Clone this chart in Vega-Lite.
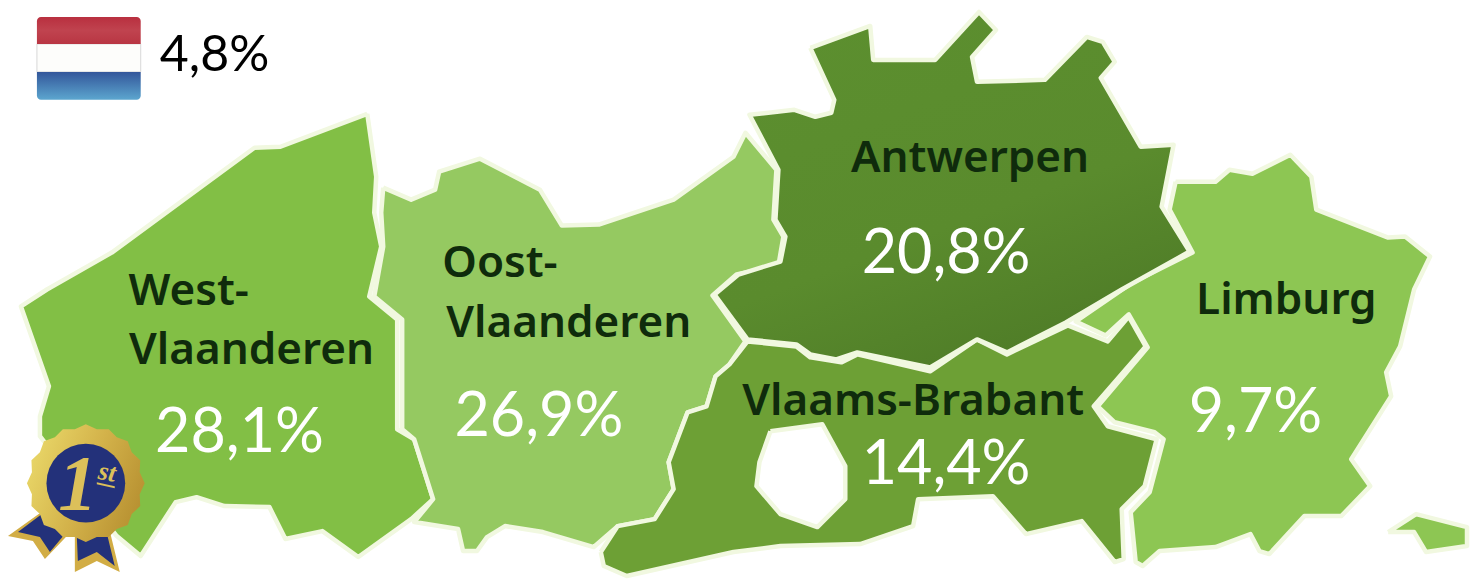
{"$schema":"https://vega.github.io/schema/vega-lite/v6.json","width":1470,"height":579,"autosize":{"type":"fit","contains":"padding"},"padding":0,"background":"#ffffff","config":{"view":{"stroke":null}},
"resolve":{"scale":{"color":"independent"}},
"datasets":{
"land":[
{"s":"West","o":1,"x":368,"y":114},{"s":"West","o":2,"x":377,"y":177},{"s":"West","o":3,"x":375,"y":213},{"s":"West","o":4,"x":382,"y":247},{"s":"West","o":5,"x":370,"y":297},{"s":"West","o":6,"x":398,"y":320},{"s":"West","o":7,"x":398,"y":430},{"s":"West","o":8,"x":415,"y":440},{"s":"West","o":9,"x":434,"y":500},{"s":"West","o":10,"x":412,"y":520},{"s":"West","o":11,"x":359,"y":558},{"s":"West","o":12,"x":323,"y":532},{"s":"West","o":13,"x":286,"y":540},{"s":"West","o":14,"x":270,"y":508},{"s":"West","o":15,"x":225,"y":507},{"s":"West","o":16,"x":197,"y":498},{"s":"West","o":17,"x":176,"y":503},{"s":"West","o":18,"x":141,"y":557},{"s":"West","o":19,"x":117,"y":537},{"s":"West","o":20,"x":40,"y":437},{"s":"West","o":21,"x":40,"y":417},{"s":"West","o":22,"x":49,"y":387},{"s":"West","o":23,"x":21,"y":307},{"s":"West","o":24,"x":47,"y":290},{"s":"West","o":25,"x":112,"y":253},{"s":"West","o":26,"x":255,"y":148},{"s":"West","o":27,"x":281,"y":147},{"s":"West","o":28,"x":368,"y":114},
{"s":"Oost","o":1,"x":384,"y":188},{"s":"Oost","o":2,"x":412,"y":200},{"s":"Oost","o":3,"x":436,"y":190},{"s":"Oost","o":4,"x":440,"y":172},{"s":"Oost","o":5,"x":481,"y":159},{"s":"Oost","o":6,"x":541,"y":190},{"s":"Oost","o":7,"x":563,"y":226},{"s":"Oost","o":8,"x":600,"y":225},{"s":"Oost","o":9,"x":675,"y":200},{"s":"Oost","o":10,"x":735,"y":157},{"s":"Oost","o":11,"x":747,"y":133},{"s":"Oost","o":12,"x":778,"y":170},{"s":"Oost","o":13,"x":775,"y":220},{"s":"Oost","o":14,"x":785,"y":237},{"s":"Oost","o":15,"x":780,"y":266},{"s":"Oost","o":16,"x":738,"y":275},{"s":"Oost","o":17,"x":714,"y":296},{"s":"Oost","o":18,"x":747,"y":342},{"s":"Oost","o":19,"x":731,"y":365},{"s":"Oost","o":20,"x":717,"y":377},{"s":"Oost","o":21,"x":708,"y":407},{"s":"Oost","o":22,"x":689,"y":413},{"s":"Oost","o":23,"x":670,"y":463},{"s":"Oost","o":24,"x":675,"y":490},{"s":"Oost","o":25,"x":656,"y":520},{"s":"Oost","o":26,"x":619,"y":527},{"s":"Oost","o":27,"x":595,"y":548},{"s":"Oost","o":28,"x":544,"y":533},{"s":"Oost","o":29,"x":506,"y":527},{"s":"Oost","o":30,"x":488,"y":538},{"s":"Oost","o":31,"x":478,"y":552},{"s":"Oost","o":32,"x":464,"y":552},{"s":"Oost","o":33,"x":459,"y":530},{"s":"Oost","o":34,"x":415,"y":523},{"s":"Oost","o":35,"x":434,"y":500},{"s":"Oost","o":36,"x":415,"y":440},{"s":"Oost","o":37,"x":403,"y":430},{"s":"Oost","o":38,"x":403,"y":320},{"s":"Oost","o":39,"x":375,"y":297},{"s":"Oost","o":40,"x":384,"y":247},{"s":"Oost","o":41,"x":382,"y":213},{"s":"Oost","o":42,"x":384,"y":188},
{"s":"Limburg","o":1,"x":1178,"y":182},{"s":"Limburg","o":2,"x":1218,"y":182},{"s":"Limburg","o":3,"x":1232,"y":170},{"s":"Limburg","o":4,"x":1255,"y":174},{"s":"Limburg","o":5,"x":1293,"y":155},{"s":"Limburg","o":6,"x":1314,"y":177},{"s":"Limburg","o":7,"x":1319,"y":210},{"s":"Limburg","o":8,"x":1391,"y":238},{"s":"Limburg","o":9,"x":1408,"y":237},{"s":"Limburg","o":10,"x":1433,"y":257},{"s":"Limburg","o":11,"x":1417,"y":290},{"s":"Limburg","o":12,"x":1403,"y":347},{"s":"Limburg","o":13,"x":1389,"y":373},{"s":"Limburg","o":14,"x":1394,"y":397},{"s":"Limburg","o":15,"x":1354,"y":460},{"s":"Limburg","o":16,"x":1373,"y":487},{"s":"Limburg","o":17,"x":1344,"y":517},{"s":"Limburg","o":18,"x":1307,"y":517},{"s":"Limburg","o":19,"x":1272,"y":555},{"s":"Limburg","o":20,"x":1262,"y":552},{"s":"Limburg","o":21,"x":1253,"y":535},{"s":"Limburg","o":22,"x":1218,"y":548},{"s":"Limburg","o":23,"x":1162,"y":552},{"s":"Limburg","o":24,"x":1145,"y":567},{"s":"Limburg","o":25,"x":1138,"y":563},{"s":"Limburg","o":26,"x":1133,"y":513},{"s":"Limburg","o":27,"x":1152,"y":493},{"s":"Limburg","o":28,"x":1166,"y":440},{"s":"Limburg","o":29,"x":1157,"y":433},{"s":"Limburg","o":30,"x":1117,"y":423},{"s":"Limburg","o":31,"x":1100,"y":407},{"s":"Limburg","o":32,"x":1150,"y":348},{"s":"Limburg","o":33,"x":1131,"y":315},{"s":"Limburg","o":34,"x":1108,"y":336},{"s":"Limburg","o":35,"x":1078,"y":322},{"s":"Limburg","o":36,"x":1135,"y":283},{"s":"Limburg","o":37,"x":1195,"y":253},{"s":"Limburg","o":38,"x":1172,"y":210},{"s":"Limburg","o":39,"x":1178,"y":182},
{"s":"Voeren","o":1,"x":1391,"y":533},{"s":"Voeren","o":2,"x":1419,"y":515},{"s":"Voeren","o":3,"x":1470,"y":528},{"s":"Voeren","o":4,"x":1470,"y":547},{"s":"Voeren","o":5,"x":1429,"y":553},{"s":"Voeren","o":6,"x":1417,"y":533},{"s":"Voeren","o":7,"x":1391,"y":533},
{"s":"Brabant","o":1,"x":602,"y":553},{"s":"Brabant","o":2,"x":605,"y":567},{"s":"Brabant","o":3,"x":628,"y":577},{"s":"Brabant","o":4,"x":735,"y":553},{"s":"Brabant","o":5,"x":782,"y":547},{"s":"Brabant","o":6,"x":862,"y":545},{"s":"Brabant","o":7,"x":915,"y":527},{"s":"Brabant","o":8,"x":920,"y":500},{"s":"Brabant","o":9,"x":995,"y":497},{"s":"Brabant","o":10,"x":1028,"y":535},{"s":"Brabant","o":11,"x":1084,"y":522},{"s":"Brabant","o":12,"x":1117,"y":563},{"s":"Brabant","o":13,"x":1126,"y":560},{"s":"Brabant","o":14,"x":1124,"y":510},{"s":"Brabant","o":15,"x":1147,"y":487},{"s":"Brabant","o":16,"x":1159,"y":440},{"s":"Brabant","o":17,"x":1110,"y":427},{"s":"Brabant","o":18,"x":1096,"y":407},{"s":"Brabant","o":19,"x":1148,"y":347},{"s":"Brabant","o":20,"x":1131,"y":317},{"s":"Brabant","o":21,"x":1110,"y":342},{"s":"Brabant","o":22,"x":1070,"y":326},{"s":"Brabant","o":23,"x":1009,"y":355},{"s":"Brabant","o":24,"x":979,"y":340},{"s":"Brabant","o":25,"x":932,"y":372},{"s":"Brabant","o":26,"x":859,"y":355},{"s":"Brabant","o":27,"x":843,"y":363},{"s":"Brabant","o":28,"x":812,"y":358},{"s":"Brabant","o":29,"x":798,"y":347},{"s":"Brabant","o":30,"x":749,"y":342},{"s":"Brabant","o":31,"x":731,"y":365},{"s":"Brabant","o":32,"x":717,"y":377},{"s":"Brabant","o":33,"x":708,"y":407},{"s":"Brabant","o":34,"x":689,"y":413},{"s":"Brabant","o":35,"x":670,"y":463},{"s":"Brabant","o":36,"x":675,"y":490},{"s":"Brabant","o":37,"x":656,"y":520},{"s":"Brabant","o":38,"x":619,"y":527},{"s":"Brabant","o":39,"x":602,"y":553},
{"s":"Brussel","o":1,"x":772,"y":432},{"s":"Brussel","o":2,"x":824,"y":425},{"s":"Brussel","o":3,"x":847,"y":467},{"s":"Brussel","o":4,"x":847,"y":500},{"s":"Brussel","o":5,"x":819,"y":528},{"s":"Brussel","o":6,"x":782,"y":515},{"s":"Brussel","o":7,"x":758,"y":487},{"s":"Brussel","o":8,"x":761,"y":463},{"s":"Brussel","o":9,"x":772,"y":432}
],
"antwerp":[
{"s":"Antwerpen","o":1,"x":812,"y":48},{"s":"Antwerpen","o":2,"x":872,"y":26},{"s":"Antwerpen","o":3,"x":875,"y":60},{"s":"Antwerpen","o":4,"x":937,"y":60},{"s":"Antwerpen","o":5,"x":981,"y":12},{"s":"Antwerpen","o":6,"x":998,"y":30},{"s":"Antwerpen","o":7,"x":974,"y":57},{"s":"Antwerpen","o":8,"x":979,"y":82},{"s":"Antwerpen","o":9,"x":1047,"y":80},{"s":"Antwerpen","o":10,"x":1089,"y":37},{"s":"Antwerpen","o":11,"x":1105,"y":42},{"s":"Antwerpen","o":12,"x":1117,"y":62},{"s":"Antwerpen","o":13,"x":1103,"y":78},{"s":"Antwerpen","o":14,"x":1143,"y":147},{"s":"Antwerpen","o":15,"x":1176,"y":145},{"s":"Antwerpen","o":16,"x":1164,"y":207},{"s":"Antwerpen","o":17,"x":1192,"y":252},{"s":"Antwerpen","o":18,"x":1124,"y":290},{"s":"Antwerpen","o":19,"x":1068,"y":323},{"s":"Antwerpen","o":20,"x":1009,"y":353},{"s":"Antwerpen","o":21,"x":979,"y":340},{"s":"Antwerpen","o":22,"x":932,"y":368},{"s":"Antwerpen","o":23,"x":859,"y":353},{"s":"Antwerpen","o":24,"x":838,"y":360},{"s":"Antwerpen","o":25,"x":812,"y":355},{"s":"Antwerpen","o":26,"x":798,"y":345},{"s":"Antwerpen","o":27,"x":749,"y":340},{"s":"Antwerpen","o":28,"x":716,"y":295},{"s":"Antwerpen","o":29,"x":740,"y":275},{"s":"Antwerpen","o":30,"x":782,"y":262},{"s":"Antwerpen","o":31,"x":787,"y":237},{"s":"Antwerpen","o":32,"x":777,"y":220},{"s":"Antwerpen","o":33,"x":780,"y":170},{"s":"Antwerpen","o":34,"x":751,"y":115},{"s":"Antwerpen","o":35,"x":796,"y":110},{"s":"Antwerpen","o":36,"x":817,"y":117},{"s":"Antwerpen","o":37,"x":833,"y":113},{"s":"Antwerpen","o":38,"x":836,"y":100},{"s":"Antwerpen","o":39,"x":812,"y":48}
],
"medal":[
{"s":"ribbonL","o":1,"x":43,"y":512},{"s":"ribbonL","o":2,"x":8,"y":537},{"s":"ribbonL","o":3,"x":33,"y":542},{"s":"ribbonL","o":4,"x":45,"y":560},{"s":"ribbonL","o":5,"x":67,"y":537},
{"s":"ribbonLb","o":1,"x":42,"y":515},{"s":"ribbonLb","o":2,"x":18,"y":533},{"s":"ribbonLb","o":3,"x":40,"y":538},{"s":"ribbonLb","o":4,"x":50,"y":553},{"s":"ribbonLb","o":5,"x":65,"y":535},
{"s":"ribbonR","o":1,"x":75,"y":533},{"s":"ribbonR","o":2,"x":75,"y":573},{"s":"ribbonR","o":3,"x":97,"y":562},{"s":"ribbonR","o":4,"x":120,"y":573},{"s":"ribbonR","o":5,"x":110,"y":532},
{"s":"ribbonRb","o":1,"x":77,"y":538},{"s":"ribbonRb","o":2,"x":78,"y":562},{"s":"ribbonRb","o":3,"x":97,"y":553},{"s":"ribbonRb","o":4,"x":115,"y":567},{"s":"ribbonRb","o":5,"x":107,"y":534}
],
"seal":[
{"s":"seal","o":0,"x":145,"y":484},{"s":"seal","o":1,"x":140,"y":495},{"s":"seal","o":2,"x":140.5,"y":507},{"s":"seal","o":3,"x":132,"y":515},{"s":"seal","o":4,"x":128,"y":526},{"s":"seal","o":5,"x":117,"y":530},{"s":"seal","o":6,"x":109,"y":538},{"s":"seal","o":7,"x":97,"y":538},{"s":"seal","o":8,"x":86,"y":543},{"s":"seal","o":9,"x":75,"y":538},{"s":"seal","o":10,"x":63,"y":538},{"s":"seal","o":11,"x":55,"y":530},{"s":"seal","o":12,"x":44,"y":526},{"s":"seal","o":13,"x":40,"y":515},{"s":"seal","o":14,"x":31.5,"y":507},{"s":"seal","o":15,"x":32,"y":495},{"s":"seal","o":16,"x":27,"y":484},{"s":"seal","o":17,"x":32,"y":473},{"s":"seal","o":18,"x":31.5,"y":461},{"s":"seal","o":19,"x":40,"y":453},{"s":"seal","o":20,"x":44,"y":442},{"s":"seal","o":21,"x":55,"y":438},{"s":"seal","o":22,"x":63,"y":430},{"s":"seal","o":23,"x":75,"y":430},{"s":"seal","o":24,"x":86,"y":425},{"s":"seal","o":25,"x":97,"y":430},{"s":"seal","o":26,"x":109,"y":430},{"s":"seal","o":27,"x":117,"y":438},{"s":"seal","o":28,"x":128,"y":442},{"s":"seal","o":29,"x":132,"y":453},{"s":"seal","o":30,"x":140.5,"y":461},{"s":"seal","o":31,"x":140,"y":473}
],
"bar":[{"s":"bar","o":1,"x":97,"y":483},{"s":"bar","o":2,"x":115,"y":487},{"s":"bar","o":3,"x":115,"y":489},{"s":"bar","o":4,"x":97,"y":485}],
"pct":[{"t":"28,1%","x":240,"y":453},{"t":"26,9%","x":540,"y":437},{"t":"20,8%","x":948,"y":273},{"t":"14,4%","x":948,"y":485},{"t":"9,7%","x":1258,"y":433}],
"names":[{"t":"West-","x":189,"y":306},{"t":"Vlaanderen","x":252,"y":365},{"t":"Oost-","x":501,"y":277},{"t":"Vlaanderen","x":570,"y":338},{"t":"Antwerpen","x":972,"y":172},{"t":"Limburg","x":1289,"y":315},{"t":"Vlaams-Brabant","x":915,"y":416}]
},
"encoding":{
"x":{"field":"x","type":"quantitative","axis":null,"scale":{"domain":[0,1470],"nice":false,"zero":false}},
"y":{"field":"y","type":"quantitative","axis":null,"scale":{"domain":[579,0],"nice":false,"zero":false}}
},
"layer":[
{"data":{"name":"land"},"mark":{"type":"line","filled":true,"stroke":"#f1f8e0","strokeWidth":4.5,"strokeJoin":"round","clip":false},
"encoding":{"order":{"field":"o","type":"quantitative"},"detail":{"field":"s"},"color":{"field":"s","type":"nominal","legend":null,"scale":{"domain":["West","Oost","Limburg","Voeren","Brabant","Brussel"],"range":["#82bf45","#95c961","#8dc653","#8dc653","#6da035","#ffffff"]}}}},
{"data":{"name":"antwerp"},"mark":{"type":"line","filled":true,"stroke":"#f1f8e0","strokeWidth":4.5,"strokeJoin":"round","clip":false,"fill":{"gradient":"linear","x1":0.2,"y1":0,"x2":0.7,"y2":1,"stops":[{"offset":0,"color":"#5c8f2f"},{"offset":0.6,"color":"#5a8b2d"},{"offset":1,"color":"#4e7b27"}]}},
"encoding":{"order":{"field":"o","type":"quantitative"},"detail":{"field":"s"}}},
{"data":{"values":[{"x":37,"x2":141,"y":44,"y2":72}]},"mark":{"type":"rect","color":"#fdfdfb","stroke":"#d8d8d8","strokeWidth":1},"encoding":{"x2":{"field":"x2"},"y2":{"field":"y2"}}},
{"data":{"values":[{"x":37,"x2":141,"y":17,"y2":44}]},"mark":{"type":"rect","cornerRadiusTopLeft":4,"cornerRadiusTopRight":4,"color":{"gradient":"linear","x1":0,"y1":0,"x2":0,"y2":1,"stops":[{"offset":0,"color":"#b92f3f"},{"offset":0.5,"color":"#c0434f"},{"offset":1,"color":"#b93643"}]}},"encoding":{"x2":{"field":"x2"},"y2":{"field":"y2"}}},
{"data":{"values":[{"x":37,"x2":141,"y":72,"y2":100}]},"mark":{"type":"rect","cornerRadiusBottomLeft":4,"cornerRadiusBottomRight":4,"color":{"gradient":"linear","x1":0,"y1":0,"x2":0,"y2":1,"stops":[{"offset":0,"color":"#33569a"},{"offset":1,"color":"#5ca6cf"}]}},"encoding":{"x2":{"field":"x2"},"y2":{"field":"y2"}}},
{"data":{"name":"medal"},"mark":{"type":"line","filled":true,"strokeWidth":0,"clip":false},
"encoding":{"order":{"field":"o","type":"quantitative"},"detail":{"field":"s"},"color":{"field":"s","type":"nominal","legend":null,"scale":{"domain":["ribbonL","ribbonLb","ribbonR","ribbonRb"],"range":["#d2ad45","#23317a","#d2ad45","#23317a"]}}}},
{"data":{"name":"seal"},"mark":{"type":"line","filled":true,"strokeWidth":0,"clip":false,"fill":{"gradient":"linear","x1":0,"y1":0.3,"x2":1,"y2":0.7,"stops":[{"offset":0,"color":"#e9d768"},{"offset":0.5,"color":"#d3b24a"},{"offset":1,"color":"#b68f30"}]}},
"encoding":{"order":{"field":"o","type":"quantitative"},"detail":{"field":"s"}}},
{"data":{"values":[{"x":86,"y":484}]},"mark":{"type":"circle","size":6200,"color":"#23317a","opacity":1}},
{"data":{"values":[{"t":"1","x":78,"y":510}]},"mark":{"type":"text","font":"Liberation Serif","fontStyle":"italic","fontWeight":"bold","fontSize":78,"align":"center","baseline":"alphabetic","color":"#dcc05a"},"encoding":{"text":{"field":"t"}}},
{"data":{"values":[{"t":"st","x":106,"y":481}]},"mark":{"type":"text","font":"Liberation Serif","fontStyle":"italic","fontWeight":"bold","fontSize":26,"align":"center","baseline":"alphabetic","angle":10,"color":"#dcc05a"},"encoding":{"text":{"field":"t"}}},
{"data":{"name":"bar"},"mark":{"type":"line","filled":true,"strokeWidth":0,"color":"#dcc05a"},"encoding":{"order":{"field":"o","type":"quantitative"}}},
{"data":{"name":"names"},"mark":{"type":"text","font":"Noto Sans","fontWeight":600,"fontSize":44,"align":"center","baseline":"alphabetic","color":"#0f2b0c"},"encoding":{"text":{"field":"t"}}},
{"data":{"name":"pct"},"mark":{"type":"text","font":"Lato","fontWeight":400,"fontSize":61,"align":"center","baseline":"alphabetic","color":"#ffffff"},"encoding":{"text":{"field":"t"}}},
{"data":{"values":[{"t":"4,8%","x":215,"y":71}]},"mark":{"type":"text","font":"Lato","fontWeight":400,"fontSize":50,"align":"center","baseline":"alphabetic","color":"#000000"},"encoding":{"text":{"field":"t"}}}
]}
